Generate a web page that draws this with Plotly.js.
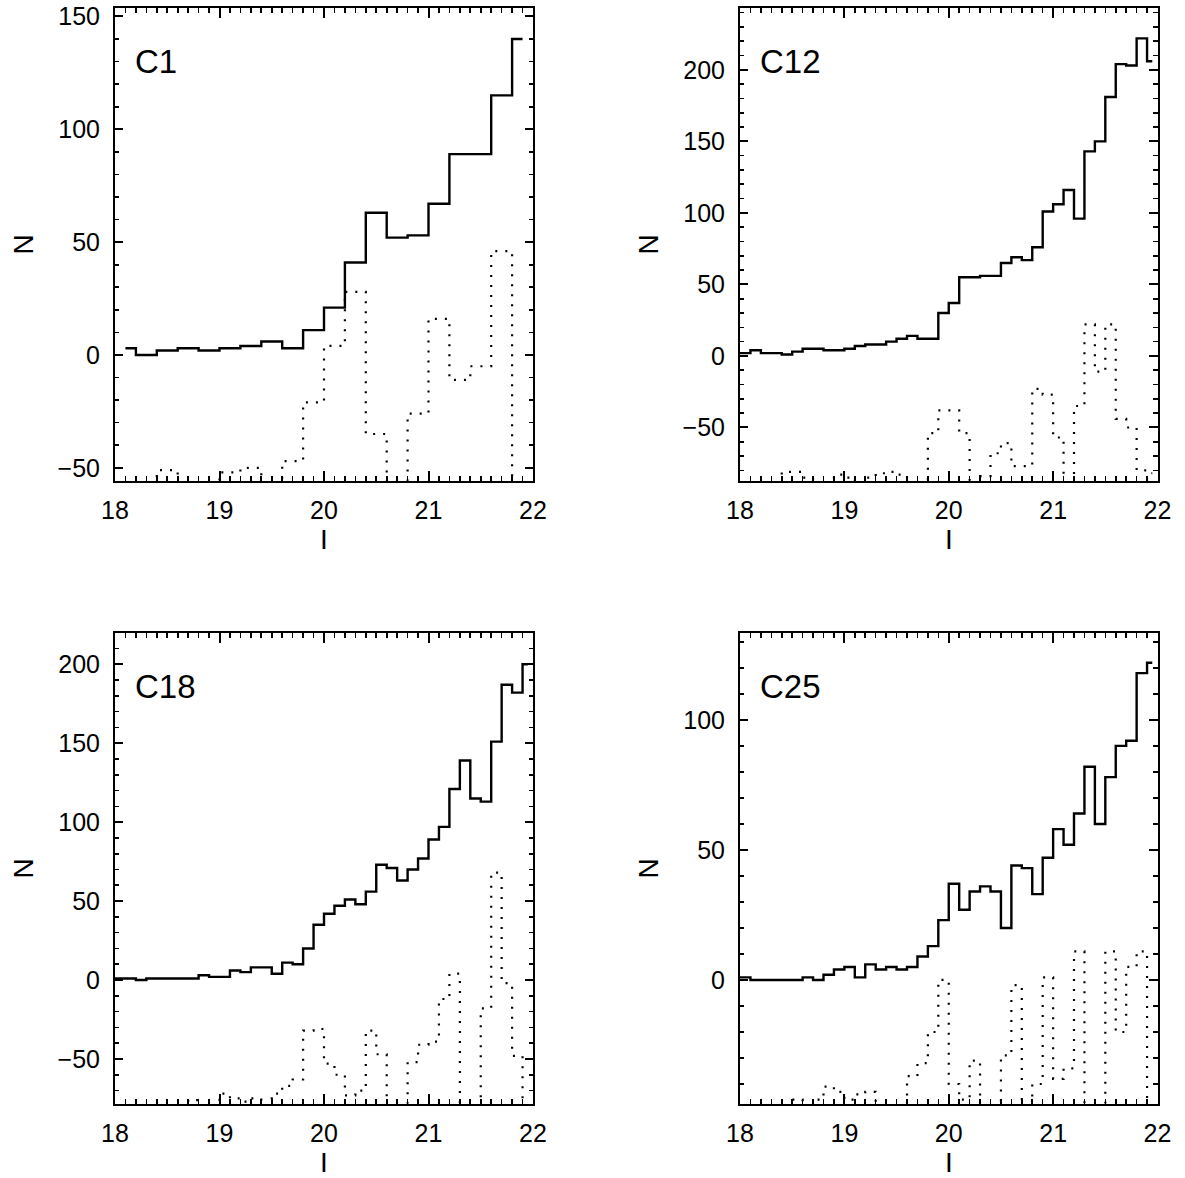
<!DOCTYPE html>
<html>
<head>
<meta charset="utf-8">
<script src="https://cdn.plot.ly/plotly-3.0.1.min.js"></script>
<style>html,body{margin:0;padding:0;background:#fff;}#plot{width:1185px;height:1178px;}</style>
</head>
<body>
<div id="plot"></div>
<script>
// ---------------- DATA ----------------
// Bin centres, magnitude I (0.2 mag bins for C1, 0.1 mag bins for the others)
var binsC1 = [18.1, 18.3, 18.5, 18.7, 18.9, 19.1, 19.3, 19.5, 19.7, 19.9,
              20.1, 20.3, 20.5, 20.7, 20.9, 21.1, 21.3, 21.5, 21.7, 21.9];
var bins01 = [17.95, 18.05, 18.15, 18.25, 18.35, 18.45, 18.55, 18.65, 18.75, 18.85, 18.95,
              19.05, 19.15, 19.25, 19.35, 19.45, 19.55, 19.65, 19.75, 19.85, 19.95,
              20.05, 20.15, 20.25, 20.35, 20.45, 20.55, 20.65, 20.75, 20.85, 20.95,
              21.05, 21.15, 21.25, 21.35, 21.45, 21.55, 21.65, 21.75, 21.85, 21.95];

// C1: counts (solid) and second histogram (dotted); values below the axis are estimated
var c1Solid  = [3, 0, 2, 3, 2, 3, 4, 6, 3, 11, 21, 41, 63, 52, 53, 67, 89, 89, 115, 140];
var c1Dotted = [-80, -80, -51, -80, -80, -52, -50, -80, -47, -21, 4, 28, -35, -80, -26, 16, -11, -5, 46, -80];

// C12
var c12Solid  = [2, 2, 4, 2, 2, 1, 3, 5, 5, 4, 4, 5, 7, 8, 8, 10, 12, 14, 12, 12, 30,
                 37, 55, 55, 56, 56, 65, 69, 67, 76, 101, 106, 116, 96, 143, 150, 181, 204, 203, 222, 206];
var c12Dotted = [-120, -120, -120, -120, -120, -81, -81, -85, -120, -120, -83, -85, -120, -85, -82, -81, -83, -120, -120, -54, -38,
                 -38, -54, -120, -84, -68, -61, -77, -77, -23, -27, -57, -120, -35, 22, -11, 22, -44, -50, -80, -82];

// C18
var c18Solid  = [1, 1, 1, 0, 1, 1, 1, 1, 1, 3, 2, 2, 6, 5, 8, 8, 4, 11, 10, 20, 35,
                 42, 47, 51, 48, 56, 73, 71, 63, 70, 77, 89, 97, 121, 139, 115, 113, 151, 187, 182, 200];
var c18Dotted = [-110, -110, -110, -110, -110, -110, -110, -110, -76, -110, -110, -72, -75, -77, -75, -110, -72, -67, -63, -32, -31,
                 -53, -60, -73, -70, -32, -47, -110, -110, -52, -41, -39, -12, 4, -110, -110, -18, 68, -2, -48, -110];

// C25
var c25Solid  = [1, 1, 0, 0, 0, 0, 0, 1, 0, 2, 4, 5, 1, 6, 4, 5, 4, 5, 9, 13, 23,
                 37, 27, 34, 36, 34, 20, 44, 43, 33, 47, 58, 52, 64, 82, 60, 78, 90, 92, 118, 122];
var c25Dotted = [-70, -70, -70, -70, -70, -70, -46, -70, -46, -41, -43, -46, -44, -43, -70, -70, -70, -37, -32, -20, 0,
                 -40, -46, -31, -70, -70, -29, -2, -70, -40, 1, -38, -34, 11, -70, -70, 11, -20, 5, 11, -70];

var panelNames = ['C1', 'C12', 'C18', 'C25'];
var yRanges = [[-55.7, 153.6], [-87.2, 243], [-78.2, 219.6], [-47.5, 133.3]];
var xTicks = [18, 19, 20, 21, 22];

// ---------------- FIGURE ----------------
var FONT = 'Liberation Sans, Arial, Helvetica, sans-serif';
var W = 1185, H = 1178;
// plot-area boxes in pixels [left, right, top, bottom]
var boxes = [[115, 533, 8.3, 480.7], [740, 1157.5, 8.3, 480.7],
             [115, 533, 633.3, 1103.5], [740, 1157.5, 633.3, 1103.5]];

function solidTrace(x, y, i) {
  return {x: x, y: y, xaxis: 'x' + (i ? i + 1 : ''), yaxis: 'y' + (i ? i + 1 : ''),
          type: 'scatter', mode: 'lines', line: {shape: 'hvh', color: '#000', width: 2.4},
          hoverinfo: 'x+y', showlegend: false};
}
function dotTrace(x, y, i) {
  return {x: x, y: y, xaxis: 'x' + (i ? i + 1 : ''), yaxis: 'y' + (i ? i + 1 : ''),
          type: 'scatter', mode: 'lines', line: {shape: 'hvh', color: '#000', width: 2.2, dash: '2px,8px'},
          hoverinfo: 'x+y', showlegend: false};
}

var data = [
  solidTrace(binsC1, c1Solid, 0), dotTrace(binsC1, c1Dotted, 0),
  solidTrace(bins01, c12Solid, 1), dotTrace(bins01, c12Dotted, 1),
  solidTrace(bins01, c18Solid, 2), dotTrace(bins01, c18Dotted, 2),
  solidTrace(bins01, c25Solid, 3), dotTrace(bins01, c25Dotted, 3)
];

var layout = {
  width: W, height: H,
  margin: {l: 0, r: 0, t: 0, b: 0},
  paper_bgcolor: '#fff', plot_bgcolor: '#fff',
  font: {family: FONT, color: '#000', size: 25},
  showlegend: false,
  annotations: []
};

boxes.forEach(function (b, i) {
  var sx = i ? String(i + 1) : '';
  var xd = [b[0] / W, b[1] / W];
  var yd = [1 - b[3] / H, 1 - b[2] / H];
  layout['xaxis' + sx] = {
    domain: xd, anchor: 'y' + sx, range: [18, 22],
    tickmode: 'array', tickvals: xTicks, ticktext: xTicks.map(String),
    ticks: 'inside', ticklen: 9.5, tickwidth: 2, tickcolor: '#000',
    minor: {ticks: 'inside', dtick: 0.1, tick0: 18, ticklen: 4.7, tickwidth: 1.6, tickcolor: '#000', showgrid: false},
    showline: true, linewidth: 2, linecolor: '#000', mirror: 'ticks',
    showgrid: false, zeroline: false, automargin: false,
    tickfont: {family: FONT, size: 25, color: '#000'}, ticklabelstandoff: 6
  };
  layout['yaxis' + sx] = {
    domain: yd, anchor: 'x' + sx, range: yRanges[i],
    dtick: 50, tick0: 0, tickformat: 'd',
    ticks: 'inside', ticklen: 8.4, tickwidth: 2, tickcolor: '#000',
    minor: {ticks: 'inside', dtick: 10, tick0: 0, ticklen: 4.2, tickwidth: 1.6, tickcolor: '#000', showgrid: false},
    showline: true, linewidth: 2, linecolor: '#000', mirror: 'ticks',
    showgrid: false, zeroline: false, automargin: false,
    tickfont: {family: FONT, size: 25, color: '#000'}, ticklabelstandoff: 8
  };
  var bw = b[1] - b[0], bh = b[3] - b[2];
  // panel label
  layout.annotations.push({xref: 'x' + sx + ' domain', yref: 'y' + sx + ' domain',
    x: 18 / bw, y: 1 - 53 / bh, xanchor: 'left', yanchor: 'middle', showarrow: false,
    text: panelNames[i], font: {family: FONT, size: 33, color: '#000'}});
  // y title
  layout.annotations.push({xref: 'x' + sx + ' domain', yref: 'y' + sx + ' domain',
    x: -92 / bw, y: 0.5, xanchor: 'center', yanchor: 'middle', showarrow: false, textangle: -90,
    text: 'N', font: {family: FONT, size: 28, color: '#000'}});
  // x title
  layout.annotations.push({xref: 'x' + sx + ' domain', yref: 'y' + sx + ' domain',
    x: 0.5, y: -59 / bh, xanchor: 'center', yanchor: 'middle', showarrow: false,
    text: 'I', font: {family: FONT, size: 28, color: '#000'}});
});

Plotly.newPlot('plot', data, layout, {staticPlot: true, displayModeBar: false});
</script>
</body>
</html>
